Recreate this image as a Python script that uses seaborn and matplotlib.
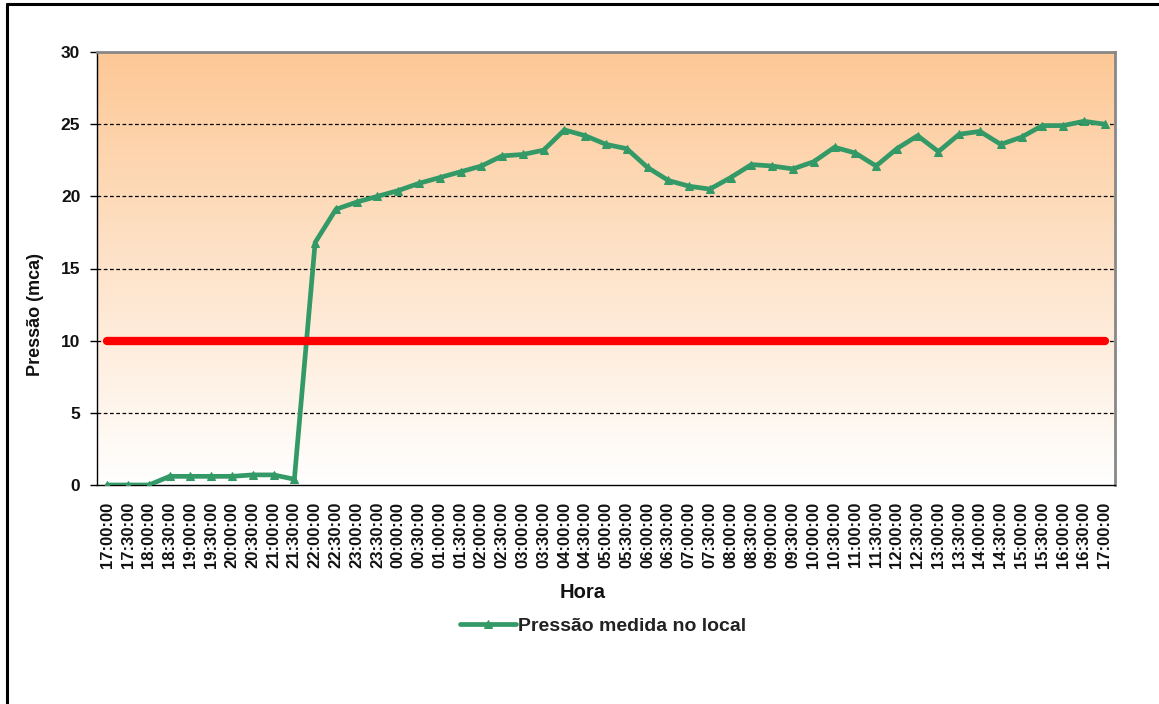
import numpy as np
import pandas as pd
import matplotlib
matplotlib.use("Agg")
import matplotlib.pyplot as plt
from matplotlib.lines import Line2D
from matplotlib.colors import LinearSegmentedColormap
import seaborn as sns

horas = ["17:00:00", "17:30:00", "18:00:00", "18:30:00", "19:00:00", "19:30:00", "20:00:00",
         "20:30:00", "21:00:00", "21:30:00", "22:00:00", "22:30:00", "23:00:00", "23:30:00",
         "00:00:00", "00:30:00", "01:00:00", "01:30:00", "02:00:00", "02:30:00", "03:00:00",
         "03:30:00", "04:00:00", "04:30:00", "05:00:00", "05:30:00", "06:00:00", "06:30:00",
         "07:00:00", "07:30:00", "08:00:00", "08:30:00", "09:00:00", "09:30:00", "10:00:00",
         "10:30:00", "11:00:00", "11:30:00", "12:00:00", "12:30:00", "13:00:00", "13:30:00",
         "14:00:00", "14:30:00", "15:00:00", "15:30:00", "16:00:00", "16:30:00", "17:00:00"]

pressao = [0.0, 0.0, 0.0, 0.6, 0.6, 0.6, 0.6, 0.7, 0.7, 0.4,
           16.8, 19.1, 19.6, 20.0, 20.4, 20.9, 21.3, 21.7, 22.1, 22.8,
           22.9, 23.2, 24.6, 24.2, 23.6, 23.3, 22.0, 21.1, 20.7, 20.5,
           21.3, 22.2, 22.1, 21.9, 22.4, 23.4, 23.0, 22.1, 23.3, 24.2,
           23.1, 24.3, 24.5, 23.6, 24.1, 24.9, 24.9, 25.2, 25.0]

limite_valor = 10.0
limite = [limite_valor] * len(horas)

y_ticks = [0, 5, 10, 15, 20, 25, 30]

sns.set_style("white")
plt.rcParams["font.family"] = ["Liberation Sans", "DejaVu Sans"]

pos = np.arange(len(horas))
df = pd.DataFrame({"pos": pos, "pressao": pressao, "limite": limite})

fig = plt.figure(figsize=(11.59, 7.04), dpi=100)
ax = fig.add_axes([97 / 1159, 1 - 485 / 704, (1115 - 97) / 1159, (485 - 52) / 704])

# gradient background
cmap = LinearSegmentedColormap.from_list("bg", ["#FFFFFF", "#FDC896"])
grad = np.linspace(0, 1, 256).reshape(-1, 1)
ax.imshow(grad, aspect="auto", cmap=cmap, origin="lower",
          extent=[-0.5, len(horas) - 0.5, 0, 30], zorder=0)

for yv in y_ticks[1:-1]:
    ax.axhline(yv, color="black", lw=0.9, ls=(0, (3, 2)), zorder=1)

sns.lineplot(data=df, x="pos", y="pressao", ax=ax, color="#339966", lw=3.4,
             marker="^", markersize=5.5, markeredgecolor="#339966",
             label="Pressão medida no local", zorder=3)
sns.lineplot(data=df, x="pos", y="limite", ax=ax, color="#FF0000", lw=6.0,
             solid_capstyle="round", legend=False, zorder=4)

ax.set_xlim(-0.5, len(horas) - 0.5)
ax.set_ylim(0, 30)
ax.set_yticks(y_ticks)
ax.set_yticklabels([str(v) for v in y_ticks], fontsize=12.5, fontweight="bold", color="#111111")
ax.set_xticks(pos)
ax.set_xticklabels(horas, rotation=90, fontsize=12, fontweight="bold", color="#111111")
ax.set_xticks(np.arange(-0.5, len(horas), 1.0), minor=True)
ax.tick_params(axis="x", which="major", length=0, pad=12)
ax.tick_params(axis="x", which="minor", length=5, width=1, color="black", direction="out")
ax.tick_params(axis="y", length=5, width=1, color="black", direction="out", left=True, pad=7)

ax.set_xlabel("Hora", fontsize=14.5, fontweight="bold", color="#111111")
ax.xaxis.set_label_coords(0.477, -0.226)
ax.set_ylabel("Pressão (mca)", fontsize=13, fontweight="bold", color="#111111")
ax.yaxis.set_label_coords(-0.052, 0.393)

for s in ["left", "bottom"]:
    ax.spines[s].set_color("black")
    ax.spines[s].set_linewidth(1.0)
for s in ["top", "right"]:
    ax.spines[s].set_color("#888888")
    ax.spines[s].set_linewidth(2.0)

leg = ax.legend(loc="center", bbox_to_anchor=(603 / 1159, 1 - 626 / 704),
                bbox_transform=fig.transFigure, frameon=False,
                prop={"size": 14, "weight": "bold"},
                handlelength=2.9, handletextpad=0.1)
for t in leg.get_texts():
    t.set_color("#222222")

# outer frame
fig.add_artist(Line2D([6.5 / 1159, 1.0], [1 - 4 / 704, 1 - 4 / 704], transform=fig.transFigure,
                      color="black", lw=2.2))
fig.add_artist(Line2D([6.5 / 1159, 6.5 / 1159], [0.0, 1 - 4 / 704], transform=fig.transFigure,
                      color="black", lw=2.2))

fig.savefig("out.png", dpi=100)
